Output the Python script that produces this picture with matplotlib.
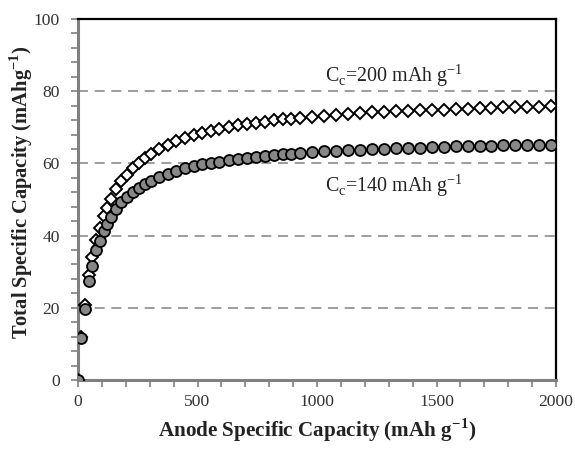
import matplotlib
matplotlib.use("Agg")
import matplotlib.pyplot as plt
from matplotlib.ticker import MultipleLocator

# anode specific capacity (mAh g-1), shared by both series
anode_cap = [0, 14, 28, 46, 60, 77, 90, 107, 121, 137, 160, 182, 204, 229, 254,
             279, 304, 340, 376, 412, 448, 484, 520, 556, 592, 630, 668, 706,
             744, 782, 820, 858, 893, 930, 980, 1030, 1080, 1130, 1180, 1230,
             1280, 1330, 1380, 1430, 1480, 1530, 1580, 1630, 1680, 1730, 1780,
             1830, 1880, 1930, 1980]

# total specific capacity, cathode 140 mAh g-1 (grey circles)
total_c140 = [0, 11.6, 19.8, 27.3, 31.7, 35.9, 38.5, 41.4, 43.3, 45.2, 47.4,
              49.2, 50.7, 52.1, 53.3, 54.3, 55.2, 56.3, 57.2, 57.9, 58.6, 59.2,
              59.7, 60.1, 60.5, 60.9, 61.2, 61.5, 61.8, 62.1, 62.3, 62.5, 62.7,
              62.9, 63.1, 63.3, 63.5, 63.6, 63.8, 63.9, 64.0, 64.2, 64.3, 64.4,
              64.5, 64.6, 64.7, 64.7, 64.8, 64.9, 65.0, 65.0, 65.1, 65.1, 65.2]

# total specific capacity, cathode 200 mAh g-1 (open diamonds)
total_c200 = [0, 11.9, 20.7, 29.0, 34.1, 38.9, 42.0, 45.4, 47.7, 50.0, 52.8,
              55.0, 56.8, 58.6, 60.1, 61.4, 62.6, 64.0, 65.1, 66.1, 67.0, 67.8,
              68.4, 69.0, 69.5, 70.0, 70.5, 70.9, 71.3, 71.6, 71.9, 72.2, 72.4,
              72.6, 72.9, 73.2, 73.4, 73.7, 73.9, 74.1, 74.2, 74.4, 74.5, 74.7,
              74.8, 74.9, 75.1, 75.2, 75.3, 75.4, 75.5, 75.5, 75.6, 75.7, 75.8]

y_ticks = [0, 20, 40, 60, 80, 100]
x_ticks = [0, 500, 1000, 1500, 2000]
grid_levels = [20, 40, 60, 80]

plt.rcParams["font.family"] = ["Liberation Serif", "DejaVu Serif"]
plt.rcParams["mathtext.fontset"] = "custom"
plt.rcParams["mathtext.rm"] = "Liberation Serif"
plt.rcParams["mathtext.bf"] = "Liberation Serif:bold"

fig = plt.figure(figsize=(5.75, 4.49), dpi=100)
# axes box: x 78..556 px, y 19..380 px
ax = fig.add_axes([78 / 575, 69 / 449, 478 / 575, 361 / 449])

for lev in grid_levels:
    ax.axhline(lev, color="#8c8c8c", lw=1.2, dashes=(6, 4), zorder=1)

ax.plot(anode_cap, total_c200, ls="none", marker="D", ms=6.6, mfc="white",
        mec="black", mew=1.4, zorder=3)
ax.plot(anode_cap, total_c140, ls="none", marker="o", ms=7.9, mfc="#878787",
        mec="black", mew=1.3, zorder=4)

ax.set_xlim(0, 2000)
ax.set_ylim(0, 100)
ax.set_xticks(x_ticks)
ax.set_yticks(y_ticks)
ax.xaxis.set_minor_locator(MultipleLocator(100))
ax.yaxis.set_minor_locator(MultipleLocator(4))
ax.tick_params(which="both", direction="out", color="#808080", width=1.2)
ax.tick_params(which="major", length=5, labelsize=12.6, labelcolor="#333333")
ax.tick_params(axis="y", which="major", pad=8)
ax.tick_params(axis="x", which="major", pad=5)
ax.tick_params(which="minor", length=5)

for side in ("left", "bottom"):
    ax.spines[side].set_color("#808080")
    ax.spines[side].set_linewidth(2.2)
for side in ("top", "right"):
    ax.spines[side].set_color("black")
    ax.spines[side].set_linewidth(1.6)

ax.set_xlabel(r"Anode Specific Capacity (mAh g$^{\mathbf{-1}}$)",
              fontsize=15.2, fontweight="bold", color="#222222", labelpad=5)
ax.set_ylabel(r"Total Specific Capacity (mAhg$^{\mathbf{-1}}$)",
              fontsize=14.8, fontweight="bold", color="#222222", va="center")
ax.yaxis.set_label_coords(-0.118, 0.52)

ax.text(1320, 84.3, r"C$_\mathregular{c}$=200 mAh g$^{\mathregular{-1}}$",
        fontsize=14.4, ha="center", va="center", color="#222222")
ax.text(1320, 54.0, r"C$_\mathregular{c}$=140 mAh g$^{\mathregular{-1}}$",
        fontsize=14.4, ha="center", va="center", color="#222222")

fig.savefig("out.png", dpi=100)
